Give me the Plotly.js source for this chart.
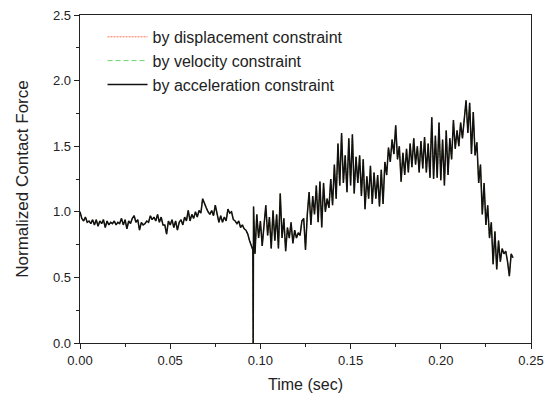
<!DOCTYPE html>
<html>
<head>
<meta charset="utf-8">
<script src="https://cdn.plot.ly/plotly-3.0.1.min.js"></script>
<style>html,body{margin:0;padding:0;background:#fff}#chart{width:549px;height:404px}</style>
</head>
<body>
<div id="chart"></div>
<script>
// Time (sec)
var time = [
0.000,0.001,0.002,0.003,0.004,0.005,0.006,0.007,0.008,0.009,
0.010,0.011,0.012,0.013,0.014,0.015,0.016,0.017,0.018,0.019,
0.020,0.021,0.022,0.023,0.024,0.025,0.026,0.027,0.028,0.029,
0.030,0.031,0.032,0.033,0.034,0.035,0.036,0.037,0.038,0.039,
0.040,0.041,0.042,0.043,0.044,0.045,0.046,0.047,0.048,0.049,
0.050,0.051,0.052,0.053,0.054,0.055,0.056,0.057,0.058,0.059,
0.060,0.061,0.062,0.063,0.064,0.065,0.066,0.067,0.068,0.069,
0.070,0.071,0.072,0.073,0.074,0.075,0.076,0.077,0.078,0.079,
0.080,0.081,0.082,0.083,0.084,0.085,0.086,0.087,0.088,0.089,
0.090,0.091,0.092,0.093,0.094,0.095,
0.0958,0.0960,0.0962,
0.097,0.098,0.099,
0.100,0.101,0.102,0.103,0.104,0.105,0.106,0.107,0.108,0.109,
0.110,0.111,0.112,0.113,0.114,0.115,0.116,0.117,0.118,0.119,
0.120,0.121,0.122,0.123,0.124,0.125,0.126,0.127,0.128,0.129,
0.130,0.131,0.132,0.133,0.134,0.135,0.136,0.137,0.138,0.139,
0.140,0.141,0.142,0.143,0.144,0.145,0.146,0.147,0.148,0.149,
0.150,0.151,0.152,0.153,0.154,0.155,0.156,0.157,0.158,0.159,
0.160,0.161,0.162,0.163,0.164,0.165,0.166,0.167,0.168,0.169,
0.170,0.171,0.172,0.173,0.174,0.175,0.176,0.177,0.178,0.179,
0.180,0.181,0.182,0.183,0.184,0.185,0.186,0.187,0.188,0.189,
0.190,0.191,0.192,0.193,0.194,0.195,0.196,0.197,0.198,0.199,
0.200,0.201,0.202,0.203,0.204,0.205,0.206,0.207,0.208,0.209,
0.210,0.211,0.212,0.213,0.214,0.215,0.216,0.217,0.218,0.219,
0.220,0.221,0.222,0.223,0.224,0.225,0.226,0.227,0.228,0.229,
0.230,0.231,0.232,0.233,0.234,0.235,0.236,0.237,0.238,0.239,0.240
];

// Normalized contact force (the three constraint methods overlap)
var forceAcceleration = [
1.00,0.95,0.93,0.96,0.92,0.93,0.91,0.94,0.90,0.94,
0.89,0.93,0.91,0.94,0.88,0.93,0.90,0.92,0.91,0.93,
0.90,0.92,0.91,0.95,0.90,0.94,0.87,0.93,0.91,0.95,
0.97,0.92,0.94,0.86,0.92,0.90,0.91,0.93,0.92,0.97,
0.94,0.96,0.93,0.98,0.92,0.96,0.90,0.90,0.83,0.93,
0.90,0.94,0.88,0.93,0.86,0.92,0.94,0.90,0.96,0.93,
1.01,0.93,0.98,0.95,1.00,0.96,1.01,0.99,1.10,1.06,
1.03,1.00,0.98,1.01,0.97,1.05,0.99,0.92,0.97,0.92,
0.96,0.93,1.02,0.99,1.00,0.94,0.93,0.91,0.93,0.88,
0.90,0.87,0.86,0.83,0.78,0.74,
0.71,0.00,1.04,
0.68,0.98,0.80,
0.93,0.74,0.90,1.05,0.82,0.96,0.72,1.01,0.78,0.98,
0.72,1.14,0.80,0.95,0.70,0.88,0.80,0.92,0.76,0.86,
0.80,0.84,0.82,0.93,0.95,0.71,0.98,1.15,0.90,1.12,
0.98,1.20,0.92,1.23,0.88,1.22,1.00,1.10,1.03,1.25,
1.05,1.36,1.10,1.52,1.20,1.60,1.22,1.43,1.15,1.56,
1.20,1.59,1.14,1.42,1.22,1.43,1.12,1.40,1.02,1.27,
1.10,1.35,1.06,1.30,1.10,1.28,1.04,1.32,1.06,1.38,
1.28,1.49,1.38,1.55,1.44,1.66,1.40,1.50,1.23,1.45,
1.28,1.48,1.30,1.52,1.34,1.56,1.36,1.50,1.30,1.54,
1.33,1.57,1.30,1.52,1.26,1.72,1.25,1.58,1.26,1.68,
1.24,1.55,1.20,1.62,1.28,1.56,1.40,1.70,1.48,1.62,
1.50,1.68,1.56,1.72,1.85,1.60,1.83,1.44,1.76,1.43,
1.53,1.22,1.36,0.98,1.22,0.90,1.05,0.80,0.92,0.60,
0.85,0.56,0.78,0.62,0.72,0.68,0.70,0.62,0.51,0.68,0.65
];
var forceDisplacement = forceAcceleration.slice();
var forceVelocity = forceAcceleration.slice();

var seriesNames = ['by displacement constraint', 'by velocity constraint', 'by acceleration constraint'];
var xTickVals = [0.00, 0.05, 0.10, 0.15, 0.20, 0.25];
var xTickText = ['0.00', '0.05', '0.10', '0.15', '0.20', '0.25'];
var yTickVals = [0.0, 0.5, 1.0, 1.5, 2.0, 2.5];
var yTickText = ['0.0', '0.5', '1.0', '1.5', '2.0', '2.5'];

var FONT = 'Liberation Sans, Arial, sans-serif';

var traces = [
  {x: time, y: forceDisplacement, name: seriesNames[0], type: 'scatter', mode: 'lines',
   line: {color: '#ff4a2a', width: 0.8, dash: '2px,1px'}},
  {x: time, y: forceVelocity, name: seriesNames[1], type: 'scatter', mode: 'lines',
   line: {color: '#44c844', width: 0.8, dash: '5px,3px'}},
  {x: time, y: forceAcceleration, name: seriesNames[2], type: 'scatter', mode: 'lines',
   line: {color: '#111', width: 1.5}}
];

var axisCommon = {
  showline: true, linecolor: '#222', linewidth: 1.3, mirror: true,
  showgrid: false, zeroline: false,
  ticks: 'outside', ticklen: 5, tickwidth: 1, tickcolor: '#222',
  tickfont: {family: FONT, size: 13, color: '#222'}
};

var layout = {
  width: 549, height: 404,
  margin: {l: 80, r: 18, t: 15, b: 61},
  paper_bgcolor: '#fff', plot_bgcolor: '#fff',
  showlegend: true,
  legend: {x: 0.05, y: 0.985, xanchor: 'left', yanchor: 'top',
           bgcolor: 'rgba(0,0,0,0)', borderwidth: 0,
           font: {family: FONT, size: 16, color: '#222'},
           tracegroupgap: 0, itemwidth: 40},
  xaxis: Object.assign({}, axisCommon, {
    range: [0, 0.25], tickvals: xTickVals, ticktext: xTickText,
    minor: {dtick: 0.025, ticks: 'outside', ticklen: 3, tickcolor: '#222', showgrid: false},
    title: {text: 'Time (sec)', font: {family: FONT, size: 16, color: '#222'}, standoff: 12}
  }),
  yaxis: Object.assign({}, axisCommon, {
    range: [0, 2.5], tickvals: yTickVals, ticktext: yTickText,
    minor: {dtick: 0.25, ticks: 'outside', ticklen: 3, tickcolor: '#222', showgrid: false},
    title: {text: 'Normalized Contact Force', font: {family: FONT, size: 17, color: '#222'}, standoff: 20}
  })
};

Plotly.newPlot('chart', traces, layout, {staticPlot: true, displayModeBar: false});
</script>
</body>
</html>
